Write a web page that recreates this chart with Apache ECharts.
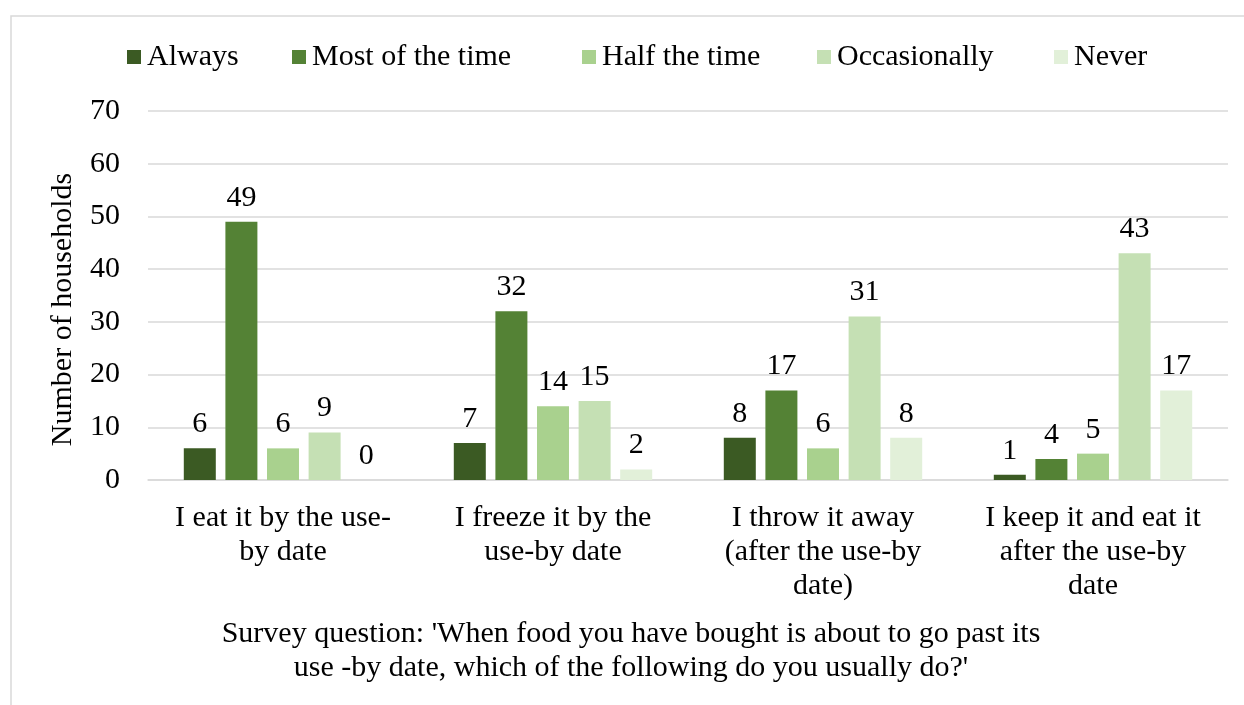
<!DOCTYPE html>
<html>
<head>
<meta charset="utf-8">
<title>Use-by date survey</title>
<script src="https://cdn.jsdelivr.net/npm/echarts@6/dist/echarts.min.js"></script>
<style>
  html, body { margin: 0; padding: 0; background: #fff; }
  #chart { width: 1244px; height: 705px; }
</style>
</head>
<body>
<div id="chart"></div>
<script>
// 数据
const categories = [
  'I eat it by the use-\nby date',
  'I freeze it by the\nuse-by date',
  'I throw it away\n(after the use-by\ndate)',
  'I keep it and eat it\nafter the use-by\ndate'
]
const seriesNames = ['Always', 'Most of the time', 'Half the time', 'Occasionally', 'Never']
const always = [6, 7, 8, 1]
const mostOfTheTime = [49, 32, 17, 4]
const halfTheTime = [6, 14, 6, 5]
const occasionally = [9, 15, 31, 43]
const never = [0, 2, 8, 17]
const yTicks = [0, 70, 10] // min, max, interval

const colors = ['#3b5a23', '#548235', '#a9d18e', '#c5e0b4', '#e2f0d9']
const legendLeft = [127, 292, 582, 817, 1054]
const font = "'Liberation Serif', 'Times New Roman', serif"

const chart = echarts.init(document.getElementById('chart'))

const values = [always, mostOfTheTime, halfTheTime, occasionally, never]

const option = {
  animation: false,
  textStyle: { fontFamily: font },
  // 图例分开放，位置跟原图一致
  legend: seriesNames.map((name, i) => ({
    data: [name],
    left: legendLeft[i],
    top: 42,
    padding: 0,
    icon: 'rect',
    itemWidth: 14,
    itemHeight: 14,
    textStyle: { fontFamily: font, fontSize: 30, color: '#000', padding: [0, 0, 0, 1] }
  })),
  grid: {
    left: 148,
    right: 16,
    top: 111,
    bottom: 225
  },
  xAxis: {
    type: 'category',
    data: categories,
    axisLine: { lineStyle: { color: '#d9d9d9', width: 1.5 } },
    axisTick: { show: false },
    axisLabel: {
      interval: 0,
      margin: 21,
      fontFamily: font,
      fontSize: 30,
      lineHeight: 34,
      color: '#000'
    }
  },
  yAxis: {
    type: 'value',
    min: yTicks[0],
    max: yTicks[1],
    interval: yTicks[2],
    name: 'Number of households',
    nameLocation: 'middle',
    nameGap: 70,
    nameTextStyle: { fontFamily: font, fontSize: 30, color: '#000', padding: [0, 28, 0, 0] },
    axisLine: { show: false },
    axisTick: { show: false },
    axisLabel: { margin: 28, fontFamily: font, fontSize: 30, color: '#000' },
    splitLine: { lineStyle: { color: '#d9d9d9', width: 1.5 } }
  },
  series: seriesNames.map((name, i) => ({
    name: name,
    type: 'bar',
    data: values[i],
    barWidth: 32,
    barGap: '30%',
    itemStyle: { color: colors[i] },
    label: {
      show: true,
      position: 'top',
      distance: 9,
      fontFamily: font,
      fontSize: 30,
      color: '#000'
    }
  })),
  graphic: [
    {
      type: 'rect',
      shape: { x: 11, y: 16, width: 1260, height: 720 },
      style: { fill: 'none', stroke: '#d9d9d9', lineWidth: 1.5 },
      silent: true
    },
    {
      type: 'text',
      style: {
        x: 631,
        y: 617,
        text: "Survey question: 'When food you have bought is about to go past its\nuse -by date, which of the following do you usually do?'",
        textAlign: 'center',
        font: '30px ' + font,
        lineHeight: 34,
        fill: '#000'
      },
      silent: true
    }
  ]
}

chart.setOption(option)

window.addEventListener('resize', () => {
  chart.resize()
})
</script>
</body>
</html>
